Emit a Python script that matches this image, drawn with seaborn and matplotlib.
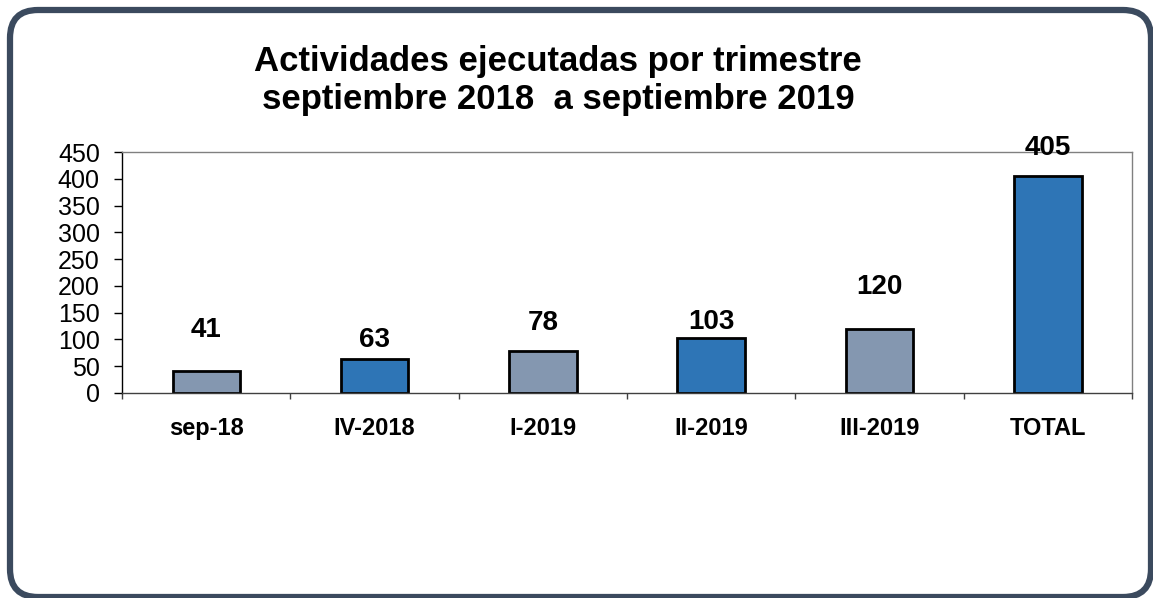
import matplotlib
matplotlib.use("Agg")
import matplotlib.pyplot as plt
import seaborn as sns
import pandas as pd
from matplotlib.patches import FancyBboxPatch
from matplotlib.ticker import FixedLocator

# datos del grafico
categorias = ["sep-18", "IV-2018", "I-2019", "II-2019", "III-2019", "TOTAL"]
actividades = [41, 63, 78, 103, 120, 405]
colores = ["#8497B0", "#2E75B6", "#8497B0", "#2E75B6", "#8497B0", "#2E75B6"]
# desplazamiento de las etiquetas sobre cada barra (pixeles)
desplaz = [41, 19, 28, 16, 42, 28]

df = pd.DataFrame({"trimestre": categorias, "actividades": actividades})

sns.set_style("white")
plt.rcParams["font.family"] = ["Liberation Sans", "DejaVu Sans"]
plt.rcParams["text.color"] = "black"
plt.rcParams["xtick.color"] = "black"
plt.rcParams["ytick.color"] = "black"
plt.rcParams["xtick.labelcolor"] = "black"
plt.rcParams["ytick.labelcolor"] = "black"

fig = plt.figure(figsize=(11.53, 5.98), dpi=100)
ax = fig.add_axes([122 / 1153, 205 / 598, 1010 / 1153, 241 / 598])

sns.barplot(data=df, x="trimestre", y="actividades", hue="trimestre",
            palette=colores, legend=False, width=0.4,
            edgecolor="black", linewidth=2, saturation=1, ax=ax)

for i, (v, d) in enumerate(zip(actividades, desplaz)):
    ax.annotate(str(v), (i, v), xytext=(0, d), textcoords="offset pixels",
                ha="center", va="center", fontsize=20, fontweight="bold",
                color="black")

ax.set_ylim(0, 450)
ax.set_xlim(-0.5, 5.5)
ax.set_yticks(range(0, 451, 50))
ax.tick_params(axis="y", which="major", length=6, width=1, color="black",
               direction="out", labelsize=18, pad=10, left=True,
               labelcolor="black")
ax.tick_params(axis="x", which="major", length=0, labelsize=17, pad=17,
               labelcolor="black")
ax.xaxis.set_minor_locator(FixedLocator([-0.5, 0.5, 1.5, 2.5, 3.5, 4.5, 5.5]))
ax.tick_params(axis="x", which="minor", length=4, width=1, color="#404040",
               direction="out", bottom=True)
for lab in ax.get_xticklabels():
    lab.set_fontweight("bold")
ax.set_xlabel("")
ax.set_ylabel("")

ax.spines["left"].set_color("black")
ax.spines["bottom"].set_color("#404040")
ax.spines["top"].set_color("#808080")
ax.spines["right"].set_color("#808080")
for s in ax.spines.values():
    s.set_visible(True)
    s.set_linewidth(1)

fig.text(558 / 1153, 1 - 62 / 598, "Actividades ejecutadas por trimestre",
         ha="center", va="center", fontsize=25, fontweight="bold")
fig.text(558 / 1153, 1 - 100 / 598, "septiembre 2018  a septiembre 2019",
         ha="center", va="center", fontsize=25, fontweight="bold")

# marco redondeado
marco = FancyBboxPatch((10, 1), 1141, 587, boxstyle="round,pad=0,rounding_size=28",
                       transform=None, facecolor="none", edgecolor="#3B4A5E",
                       linewidth=4.5)
fig.patches.append(marco)

fig.savefig("out.png", dpi=100)
